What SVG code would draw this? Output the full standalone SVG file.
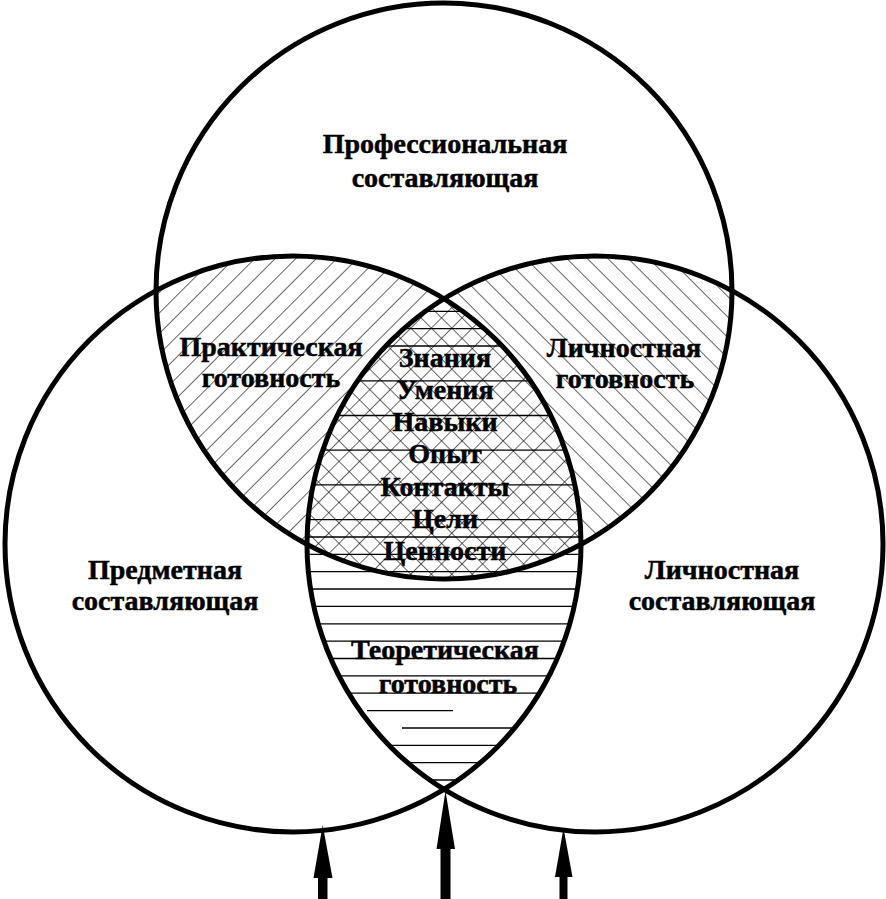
<svg xmlns="http://www.w3.org/2000/svg" width="886" height="899" viewBox="0 0 886 899">
<style>
.circ{fill:none;stroke:#000;stroke-width:5}
.lbl{font-family:"Liberation Serif","Times New Roman",serif;font-weight:bold;font-size:28px;fill:#000;stroke:#000;stroke-width:0.5;text-anchor:middle}
.hl{stroke:#000;stroke-width:1.3}
.arrow{fill:#000;stroke:none}
</style>
<defs>
<clipPath id="cTop"><circle cx="444" cy="291" r="288"/></clipPath>
<clipPath id="cLeft"><circle cx="293" cy="544" r="288"/></clipPath>
<clipPath id="cRight"><circle cx="595" cy="544" r="288"/></clipPath>
<pattern id="hatchR" patternUnits="userSpaceOnUse" width="14.5" height="14.5" patternTransform="rotate(45)">
<line x1="0" y1="0" x2="0" y2="14.5" stroke="#000" stroke-width="1.2"/>
</pattern>
<pattern id="hatchL" patternUnits="userSpaceOnUse" width="14.5" height="14.5" patternTransform="rotate(-45)">
<line x1="0" y1="0" x2="0" y2="14.5" stroke="#000" stroke-width="1.2"/>
</pattern>
</defs>
<rect width="886" height="899" fill="#fff"/>
<g id="hatching">
<g clip-path="url(#cLeft)"><g clip-path="url(#cTop)"><rect x="0" y="200" width="886" height="500" fill="url(#hatchR)"/></g></g>
<g clip-path="url(#cRight)"><g clip-path="url(#cTop)"><rect x="0" y="200" width="886" height="500" fill="url(#hatchL)"/></g></g>
<g clip-path="url(#cLeft)"><g clip-path="url(#cRight)">
<line class="hl" x1="290" x2="600" y1="311.3" y2="311.3"/>
<line class="hl" x1="290" x2="600" y1="328.7" y2="328.7"/>
<line class="hl" x1="290" x2="600" y1="346" y2="346"/>
<line class="hl" x1="290" x2="600" y1="380.8" y2="380.8"/>
<line class="hl" x1="290" x2="600" y1="415.5" y2="415.5"/>
<line class="hl" x1="290" x2="600" y1="450.2" y2="450.2"/>
<line class="hl" x1="290" x2="600" y1="484.9" y2="484.9"/>
<line class="hl" x1="290" x2="600" y1="519.6" y2="519.6"/>
<line class="hl" x1="290" x2="600" y1="537" y2="537"/>
<line class="hl" x1="290" x2="600" y1="554.3" y2="554.3"/>
<line class="hl" x1="290" x2="600" y1="571.7" y2="571.7"/>
<line class="hl" x1="290" x2="600" y1="589" y2="589"/>
<line class="hl" x1="290" x2="600" y1="606.4" y2="606.4"/>
<line class="hl" x1="290" x2="600" y1="623.8" y2="623.8"/>
<line class="hl" x1="290" x2="600" y1="641.1" y2="641.1"/>
<line class="hl" x1="290" x2="600" y1="658.5" y2="658.5"/>
<line class="hl" x1="290" x2="600" y1="675.9" y2="675.9"/>
<line class="hl" x1="290" x2="600" y1="693.2" y2="693.2"/>
<line class="hl" x1="367" x2="453" y1="710.6" y2="710.6"/>
<line class="hl" x1="402" x2="600" y1="728" y2="728"/>
<line class="hl" x1="290" x2="600" y1="745.3" y2="745.3"/>
<line class="hl" x1="290" x2="600" y1="762.7" y2="762.7"/>
<line class="hl" x1="290" x2="600" y1="780" y2="780"/>
</g></g>
</g>
<g id="node-professional">
<circle class="circ" cx="444" cy="291" r="288"/>
<text class="lbl" x="445" y="153">Профессиональная</text>
<text class="lbl" x="445" y="187">составляющая</text>
</g>
<g id="node-subject">
<circle class="circ" cx="293" cy="544" r="288"/>
<text class="lbl" x="165" y="579">Предметная</text>
<text class="lbl" x="165" y="610">составляющая</text>
</g>
<g id="node-personal">
<circle class="circ" cx="595" cy="544" r="288"/>
<text class="lbl" x="722" y="579">Личностная</text>
<text class="lbl" x="722" y="610">составляющая</text>
</g>
<g id="node-practical">
<text class="lbl" x="271" y="356">Практическая</text>
<text class="lbl" x="271" y="387">готовность</text>
</g>
<g id="node-personal-readiness">
<text class="lbl" x="624" y="357">Личностная</text>
<text class="lbl" x="625" y="388">готовность</text>
</g>
<g id="node-core">
<text class="lbl" x="445" y="367">Знания</text>
<text class="lbl" x="445" y="399">Умения</text>
<text class="lbl" x="445" y="431">Навыки</text>
<text class="lbl" x="445" y="463">Опыт</text>
<text class="lbl" x="445" y="496">Контакты</text>
<text class="lbl" x="445" y="528">Цели</text>
<text class="lbl" x="445" y="560">Ценности</text>
</g>
<g id="node-theoretical">
<text class="lbl" x="445" y="659">Теоретическая</text>
<text class="lbl" x="448" y="693">готовность</text>
</g>
<g id="connectors">
<path class="arrow" d="M322.7,825 L332.5,878 L327.5,878 L327.5,899 L318,899 L318,878 L313.5,878 Z"/>
<path class="arrow" d="M445.5,791 L455,849 L450.5,849 L450.5,899 L440.5,899 L440.5,849 L436.5,849 Z"/>
<path class="arrow" d="M563.5,828 L572.5,877 L567.5,877 L567.5,899 L559.5,899 L559.5,877 L555,877 Z"/>
</g>
</svg>
